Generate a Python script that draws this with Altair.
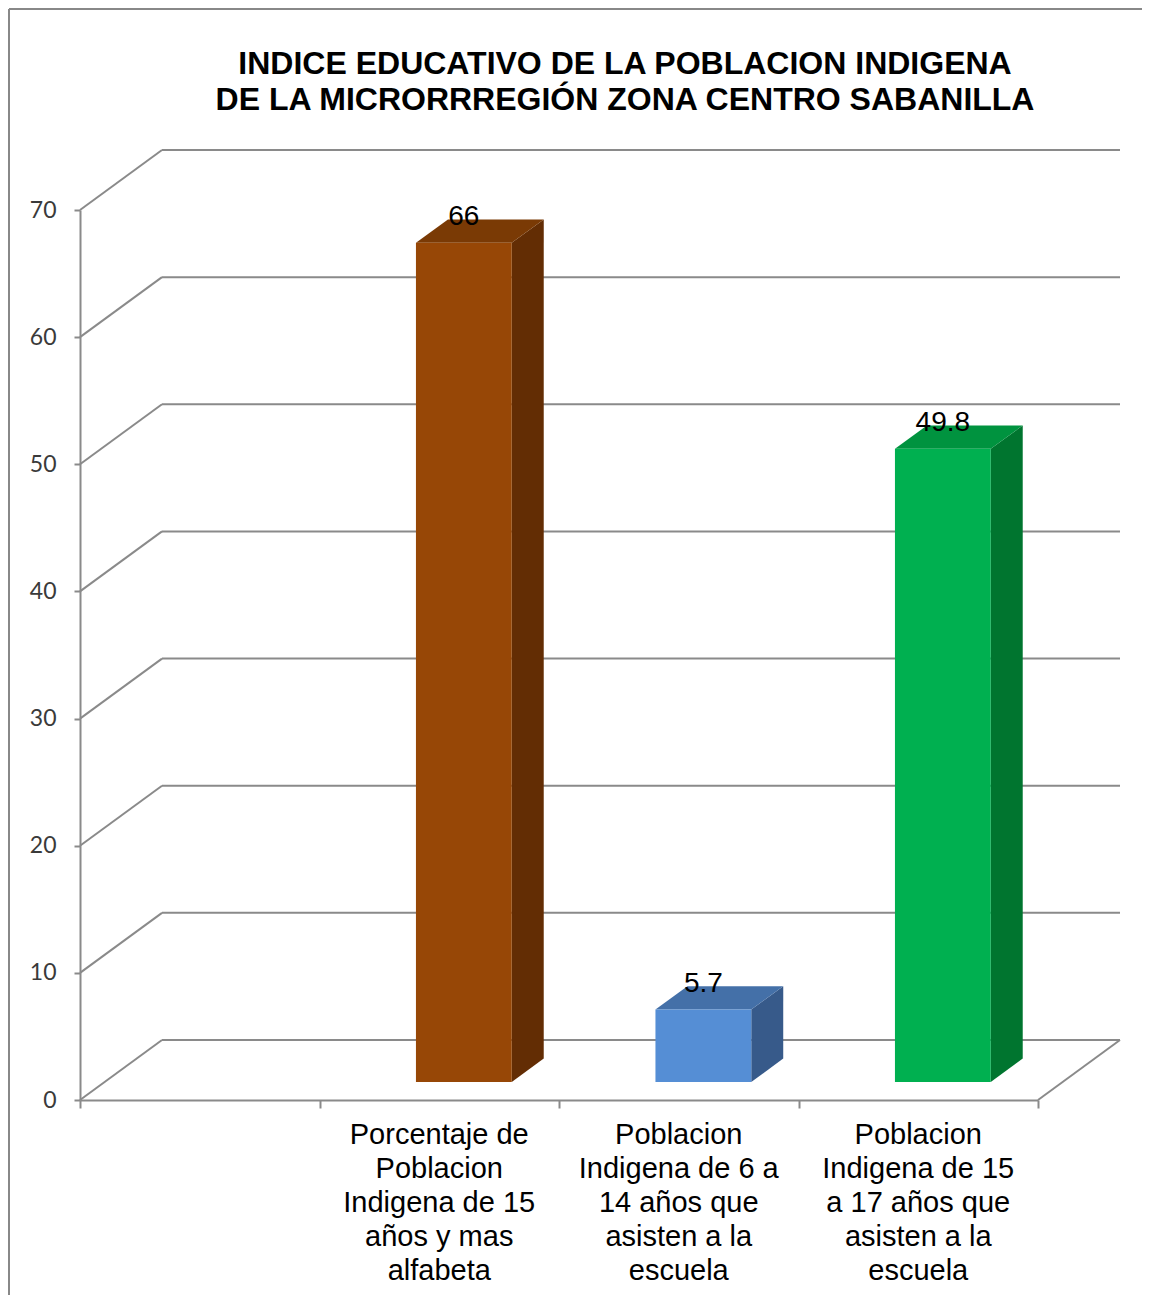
import altair as alt
import pandas as pd

# ---------------- data ----------------
categories = [
    "",
    "Porcentaje de\nPoblacion\nIndigena de 15\naños y mas\nalfabeta",
    "Poblacion\nIndigena de 6 a\n14 años que\nasisten a la\nescuela",
    "Poblacion\nIndigena de 15\na 17 años que\nasisten a la\nescuela",
]
values = [None, 66, 5.7, 49.8]
value_labels = ["", "66", "5.7", "49.8"]
y_ticks = [0, 10, 20, 30, 40, 50, 60, 70]
title_lines = [
    "INDICE EDUCATIVO DE LA POBLACION INDIGENA",
    "DE LA MICRORRREGIÓN ZONA CENTRO SABANILLA",
]

# ---------------- styles / geometry ----------------
face_colors = {
    1: ("#974706", "#7a3a05", "#632d04"),
    2: ("#558ed5", "#4470a8", "#375a8a"),
    3: ("#00b050", "#00933f", "#00752f"),
}
GRID = "#8a8a8a"
W, H = 958, 890
YMAX = 70
NCAT = len(categories)
px_x = W / NCAT          # px per category unit
px_y = H / YMAX          # px per value unit
DEPTH_PX = (82, 60)      # depth direction (right, up) in px
dxu = DEPTH_PX[0] / px_x
dyv = DEPTH_PX[1] / px_y
F0, F1 = 0.30, 0.69      # bar front/back depth fractions
HALF = 0.2               # half bar width (category units)

# gridlines on back wall and left wall
grid_back = pd.DataFrame({
    "x": [dxu] * len(y_ticks),
    "x2": [NCAT + dxu] * len(y_ticks),
    "y": [v + dyv for v in y_ticks],
})
grid_side = pd.DataFrame({
    "x": [0.0] * len(y_ticks),
    "x2": [dxu] * len(y_ticks),
    "y": y_ticks,
    "y2": [v + dyv for v in y_ticks],
})
floor_right = pd.DataFrame({"x": [NCAT], "x2": [NCAT + dxu], "y": [0], "y2": [dyv]})

front_rows, side_rows, top_rows, label_rows = [], [], [], []
for i, (cat, v) in enumerate(zip(categories, values)):
    if v is None:
        continue
    c = i + 0.5
    front, top, side = face_colors[i]
    xl, xr = c - HALF, c + HALF
    front_rows.append({"x": xl + F0 * dxu, "x2": xr + F0 * dxu,
                       "y": F0 * dyv, "y2": v + F0 * dyv, "col": front})
    for f in (F0, F1):
        side_rows.append({"k": i, "x": xr + f * dxu, "y": f * dyv,
                          "y2": v + f * dyv, "col": side})
        top_rows.append({"k": i, "y": v + f * dyv, "x": xl + f * dxu,
                         "x2": xr + f * dxu, "col": top})
    label_rows.append({"x": c + F0 * dxu, "y": v + F0 * dyv, "t": value_labels[i]})

cat_rows = pd.DataFrame({"x": [i + 0.5 for i in range(NCAT)], "y": [0] * NCAT,
                         "t": categories})

xs = alt.Scale(domain=[0, NCAT], nice=False, zero=False)
ys = alt.Scale(domain=[0, YMAX], nice=False)

base_axis_x = alt.Axis(values=list(range(NCAT + 1)), labels=False, title=None,
                       grid=False, domainColor=GRID, domainWidth=2,
                       tickColor=GRID, tickWidth=2, tickSize=8)
base_axis_y = alt.Axis(values=y_ticks, title=None, grid=False,
                       domainColor=GRID, domainWidth=2, tickColor=GRID,
                       tickWidth=2, tickSize=6, labelPadding=18,
                       labelFont="Lato", labelFontSize=23, labelColor="#3a3a3a")

back = alt.Chart(grid_back).mark_rule(color=GRID, strokeWidth=2).encode(
    x=alt.X("x:Q", scale=xs, axis=base_axis_x),
    x2="x2:Q",
    y=alt.Y("y:Q", scale=ys, axis=base_axis_y),
)
side_grid = alt.Chart(grid_side).mark_rule(color=GRID, strokeWidth=2).encode(
    x=alt.X("x:Q", scale=xs), x2="x2:Q",
    y=alt.Y("y:Q", scale=ys), y2="y2:Q",
)
floor_r = alt.Chart(floor_right).mark_rule(color=GRID, strokeWidth=2).encode(
    x=alt.X("x:Q", scale=xs), x2="x2:Q",
    y=alt.Y("y:Q", scale=ys), y2="y2:Q",
)

fronts = alt.Chart(pd.DataFrame(front_rows)).mark_rect().encode(
    x=alt.X("x:Q", scale=xs), x2="x2:Q",
    y=alt.Y("y:Q", scale=ys), y2="y2:Q",
    color=alt.Color("col:N", scale=None),
)
sides = alt.Chart(pd.DataFrame(side_rows)).mark_area(orient="vertical").encode(
    x=alt.X("x:Q", scale=xs),
    y=alt.Y("y:Q", scale=ys), y2="y2:Q",
    detail="k:N",
    color=alt.Color("col:N", scale=None),
)
tops = alt.Chart(pd.DataFrame(top_rows)).mark_area(orient="horizontal").encode(
    y=alt.Y("y:Q", scale=ys),
    x=alt.X("x:Q", scale=xs), x2="x2:Q",
    detail="k:N",
    color=alt.Color("col:N", scale=None),
)
labels = alt.Chart(pd.DataFrame(label_rows)).mark_text(
    font="Liberation Sans", fontSize=28, color="black", dy=-26, baseline="middle"
).encode(x=alt.X("x:Q", scale=xs), y=alt.Y("y:Q", scale=ys), text="t:N")

cat_text = alt.Chart(cat_rows).mark_text(
    font="Liberation Sans", fontSize=29, color="black", baseline="top",
    lineBreak="\n", lineHeight=34, dy=21, align="center"
).encode(x=alt.X("x:Q", scale=xs), y=alt.Y("y:Q", scale=ys), text="t:N")

# outer chart frame: only the top and left edges are visible in the reference
frame_src = pd.DataFrame({"a": [0]})
frame_left = alt.Chart(frame_src).mark_rule(color="#888888", strokeWidth=2).encode(
    x=alt.value(-71), y=alt.value(-201), y2=alt.value(1300))
frame_top = alt.Chart(frame_src).mark_rule(color="#888888", strokeWidth=2).encode(
    x=alt.value(-71), x2=alt.value(1300), y=alt.value(-201))

chart = alt.layer(
    frame_left, frame_top, back, side_grid, floor_r, sides, tops, fronts, labels, cat_text
).properties(
    width=W, height=H,
    padding={"left": 72, "top": 202, "right": 104, "bottom": 195},
    autosize=alt.AutoSizeParams(type="none"),
    title=alt.TitleParams(
        text=title_lines, font="Liberation Sans", fontSize=32, fontWeight="bold",
        color="black", anchor="middle", dx=66, offset=0, dy=109, lineHeight=36,
    ),
).configure(background="white").configure_view(stroke=None)

chart.save("out.html", embed_options={"renderer": "svg", "actions": False})
